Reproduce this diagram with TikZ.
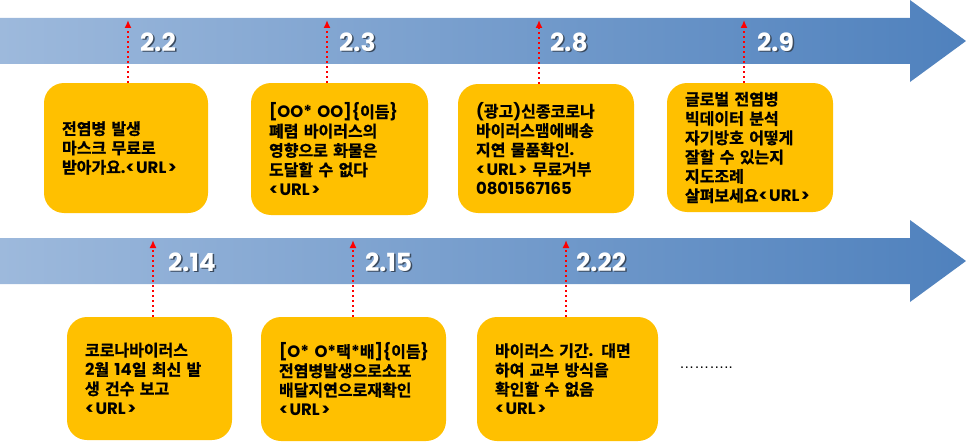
\documentclass[tikz,border=0pt]{standalone}
\usepackage{fontspec}
\usetikzlibrary{arrows.meta}
\newfontfamily\kr{Noto Sans CJK KR}[BoldFont={* Bold}, BoldFeatures={FakeBold=1}, WordSpace=1.6]
\newfontfamily\datefont{Poppins}[BoldFont={* Bold}]
\newfontfamily\dotfont{Liberation Sans}
\newcommand{\lat}[1]{{\datefont\fontsize{16.5}{19.3}\selectfont #1}}
\newcommand{\urltag}{\lat{<\kern1.5pt URL\kern1.5pt>}}
\definecolor{boxyellow}{HTML}{FFC000}
\definecolor{arrowL}{HTML}{9DB9DC}
\definecolor{arrowR}{HTML}{4F81BD}
\definecolor{markred}{HTML}{FF0000}
\definecolor{shadowgray}{HTML}{3A4A5E}
\tikzset{
  box/.style={fill=boxyellow, rounded corners=20pt, inner xsep=18pt, inner ysep=0pt,
    align=left, font=\kr\bfseries\fontsize{16}{19.3}\selectfont},
  datetext/.style={anchor=west, inner sep=0pt, text=white, font=\datefont\bfseries\fontsize{25}{25}\selectfont},
  dateshadow/.style={anchor=west, inner sep=0pt, text=shadowgray, font=\datefont\bfseries\fontsize{25}{25}\selectfont},
  redmark/.style={draw=markred, line width=2pt, dash pattern=on 2pt off 3pt, -{Latex[length=8pt,width=7pt]}},
  timeline/.style={left color=arrowL, right color=arrowR}
}
\newcommand{\datelabel}[4]{%
  \node[dateshadow] (#1s) at (#2+1.5,#3+1.5) {#4};
  \node[datetext] (#1) at (#2,#3) {#4};}
\begin{document}
\begin{tikzpicture}[x=1pt,y=-1pt]
\useasboundingbox (0,0) rectangle (966,444);
% timelines
\shade[timeline] (0,18) -- (910,18) -- (910,0) -- (966,41) -- (910,82) -- (910,64) -- (0,64) -- cycle;
\shade[timeline] (0,238) -- (910,238) -- (910,220) -- (966,261) -- (910,302) -- (910,284) -- (0,284) -- cycle;
% boxes top row
\node[box, text width=128pt, minimum height=130pt] (b1) at (126,148) {전염병 발생\\마스크 무료로\\받아가요\lat{.}\urltag};
\node[box, text width=141pt, minimum height=132pt] (b2) at (339.5,149) {\lat{[OO*~OO]\{}이듬\lat{\}}\\폐렴 바이러스의\\영향으로 화물은\\도달할 수 없다\\\urltag};
\node[box, text width=140pt, minimum height=129pt] (b3) at (546,148.5) {\lat{(}광고\lat{)}신종코로나\\바이러스맴에배송\\지연 물품확인\lat{.}\\\urltag{} 무료거부\\\lat{0801567165}};
\node[box, text width=130pt, minimum height=129pt] (b4) at (750,147.5) {글로벌 전염병\\빅데이터 분석\\자기방호 어떻게\\잘할 수 있는지\\지도조례\\살펴보세요\urltag};
% boxes bottom row
\node[box, text width=129pt, minimum height=123pt] (b5) at (149.5,378.5) {코로나바이러스\\\lat{2}월 \lat{14}일 최신 발\\생 건수 보고\\\urltag};
\node[box, text width=149pt, minimum height=124pt] (b6) at (353.5,379) {\lat{[O*~O*}택\lat{*}배\lat{]\{}이듬\lat{\}}\\전염병발생으로소포\\배달지연으로재확인\\\urltag};
\node[box, text width=145pt, minimum height=124pt] (b7) at (567.5,379) {바이러스 기간\lat{.} 대면\\하여 교부 방식을\\확인할 수 없음\\\urltag};
\node[inner sep=0pt, font=\dotfont\fontsize{15}{15}\selectfont] (dots) at (706,368) {………..};
% markers
\coordinate (t1) at (128,20);
\coordinate (t2) at (327,20);
\coordinate (t3) at (539,20);
\coordinate (t4) at (744,20);
\coordinate (t5) at (153,240);
\coordinate (t6) at (353,240);
\coordinate (t7) at (566,240);
\draw[redmark] (t1 |- b1.north) -- (t1);
\draw[redmark] (t2 |- b2.north) -- (t2);
\draw[redmark] (t3 |- b3.north) -- (t3);
\draw[redmark] (t4 |- b4.north) -- (t4);
\draw[redmark] (t5 |- b5.north) -- (t5);
\draw[redmark] (t6 |- b6.north) -- (t6);
\draw[redmark] (t7 |- b7.north) -- (t7);
% dates
\datelabel{d1}{140}{42}{2.2}
\datelabel{d2}{339}{42}{2.3}
\datelabel{d3}{550}{42}{2.8}
\datelabel{d4}{757}{42}{2.9}
\datelabel{d5}{168}{262}{2.14}
\datelabel{d6}{365}{262}{2.15}
\datelabel{d7}{576}{262}{2.22}
\end{tikzpicture}
\end{document}
